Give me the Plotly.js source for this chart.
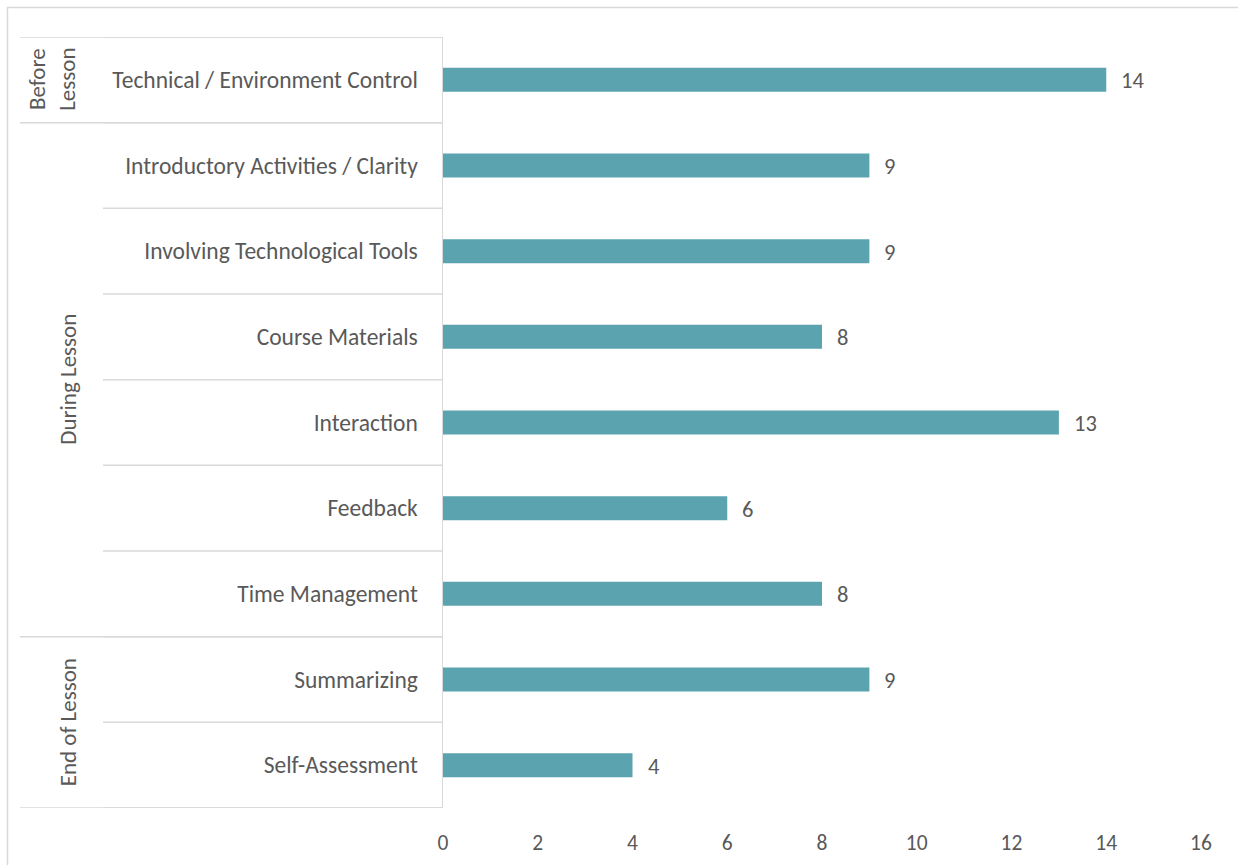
<!DOCTYPE html>
<html>
<head>
<meta charset="utf-8">
<script src="https://cdn.plot.ly/plotly-3.0.1.min.js"></script>
<style>html,body{margin:0;padding:0;background:#fff;}#chart{width:1238px;height:865px;}</style>
</head>
<body>
<div id="chart"></div>
<script>
var categories = ["Technical / Environment Control","Introductory Activities / Clarity","Involving Technological Tools","Course Materials","Interaction","Feedback","Time Management","Summarizing","Self-Assessment"];
var values = [14, 9, 9, 8, 13, 6, 8, 9, 4];
var groupNames = ["Before<br>Lesson", "During Lesson", "End of Lesson"];
var groupSizes = [1, 6, 2];
var xTicks = [0, 2, 4, 6, 8, 10, 12, 14, 16];

var FONT = "Calibri, Carlito, Lato, 'Liberation Sans', sans-serif";
var TXT = "#595959";
var LINE = "#D9D9D9";
var W = 1238, L = 443, R = 37, T = 37, B = 57;
var pw = W - L - R, ph = 865 - T - B;
function px2paperX(p){ return (p - L) / pw; }
function px2paperY(p){ return 1 - (p - T) / ph; }

var shapes = [];
var annotations = [];
// category dividers
for (var i = 0; i <= categories.length; i++) {
  shapes.push({type:'line', xref:'paper', yref:'y', x0:px2paperX(103), x1:0, y0:i-0.5, y1:i-0.5, line:{color:LINE, width:1.5}});
}
// group dividers and labels
var start = 0;
var groupX = [52, 68, 68];
for (var g = 0; g < groupSizes.length; g++) {
  shapes.push({type:'line', xref:'paper', yref:'y', x0:px2paperX(20), x1:0, y0:start-0.5, y1:start-0.5, line:{color:LINE, width:1.5}});
  annotations.push({xref:'paper', yref:'y', x:px2paperX(groupX[g]), y:start + (groupSizes[g]-1)/2, text:groupNames[g], textangle:-90, showarrow:false, font:{family:FONT, size:23, color:TXT}, xanchor:'center', yanchor:'middle'});
  start += groupSizes[g];
}
shapes.push({type:'line', xref:'paper', yref:'y', x0:px2paperX(20), x1:0, y0:start-0.5, y1:start-0.5, line:{color:LINE, width:1.5}});
// outer border
shapes.push({type:'line', xref:'paper', yref:'paper', x0:px2paperX(7), x1:1.2, y0:px2paperY(7.5), y1:px2paperY(7.5), line:{color:LINE, width:1.5}});
shapes.push({type:'line', xref:'paper', yref:'paper', x0:px2paperX(7.5), x1:px2paperX(7.5), y0:px2paperY(7), y1:-0.2, line:{color:LINE, width:1.5}});

// value labels
for (var k = 0; k < values.length; k++) {
  annotations.push({xref:'x', yref:'y', x:values[k], y:k, text:String(values[k]), showarrow:false, xanchor:'left', yanchor:'middle', xshift:13, yshift:-1, font:{family:FONT, size:22.5, color:TXT}});
}

var trace = {
  type:'bar', orientation:'h',
  x: values,
  y: categories.map(function(c, i){ return i; }),
  marker:{color:'#5BA3AE'},
  width:0.28,
  hoverinfo:'none'
};

var layout = {
  width:W, height:865,
  margin:{l:L, r:R, t:T, b:B, pad:0},
  paper_bgcolor:'#fff', plot_bgcolor:'#fff',
  showlegend:false,
  font:{family:FONT, size:23, color:TXT},
  xaxis:{range:[0,16], tickvals:xTicks, ticktext:xTicks.map(String), showgrid:false, zeroline:false, showline:false, ticks:'', ticklabelstandoff:19, tickfont:{family:FONT, size:21.5, color:TXT}, fixedrange:true},
  yaxis:{type:'linear', range:[categories.length-0.5, -0.5], tickvals:categories.map(function(c,i){return i;}), ticktext:categories, showgrid:false, zeroline:false, showline:true, linecolor:LINE, linewidth:1.5, ticks:'', ticklabelstandoff:19, tickfont:{family:FONT, size:23.5, color:TXT}, fixedrange:true},
  shapes:shapes,
  annotations:annotations
};
Plotly.newPlot('chart', [trace], layout, {displayModeBar:false, staticPlot:true});
</script>
</body>
</html>
